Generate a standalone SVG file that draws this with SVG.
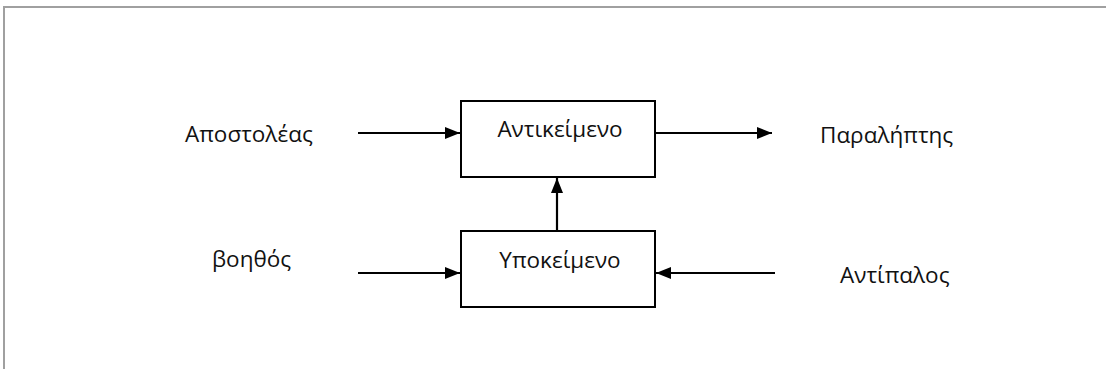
<svg xmlns="http://www.w3.org/2000/svg" width="1106" height="369" viewBox="0 0 1106 369">
<style>
.t{font-family:"Open Sans","Noto Sans","DejaVu Sans",sans-serif;font-size:22.5px;fill:#111}
.box{fill:#fff;stroke:#000;stroke-width:2}
.c{stroke:#000;stroke-width:2.2;fill:none}
</style>
<defs>
<marker id="ah" viewBox="0 0 15 12" refX="15" refY="6" markerWidth="15" markerHeight="12" markerUnits="userSpaceOnUse" orient="auto">
<path d="M0,0 L15,6 L0,12 Z" fill="#000"/>
</marker>
</defs>
<rect width="1106" height="369" fill="#fff"/>
<path d="M4,369 V7 H1106" stroke="#a0a0a0" stroke-width="2" fill="none"/>
<g id="connectors">
<line class="c" x1="358" y1="133" x2="460" y2="133" marker-end="url(#ah)"/>
<line class="c" x1="656" y1="133" x2="772" y2="133" marker-end="url(#ah)"/>
<line class="c" x1="557" y1="231" x2="557" y2="178" marker-end="url(#ah)"/>
<line class="c" x1="358" y1="273" x2="460" y2="273" marker-end="url(#ah)"/>
<line class="c" x1="775" y1="273" x2="656" y2="273" marker-end="url(#ah)"/>
</g>
<g id="node-antikeimeno">
<rect class="box" x="461" y="101" width="194" height="76"/>
<text class="t" x="560" y="137" text-anchor="middle">Αντικείμενο</text>
</g>
<g id="node-ypokeimeno">
<rect class="box" x="461" y="231" width="194" height="76"/>
<text class="t" x="560" y="268" text-anchor="middle">Υποκείμενο</text>
</g>
<g id="node-apostoleas"><text class="t" x="185" y="142">Αποστολέας</text></g>
<g id="node-paraliptis"><text class="t" x="820" y="143">Παραλήπτης</text></g>
<g id="node-voithos"><text class="t" x="212" y="267">βοηθός</text></g>
<g id="node-antipalos"><text class="t" x="840" y="283">Αντίπαλος</text></g>
</svg>
